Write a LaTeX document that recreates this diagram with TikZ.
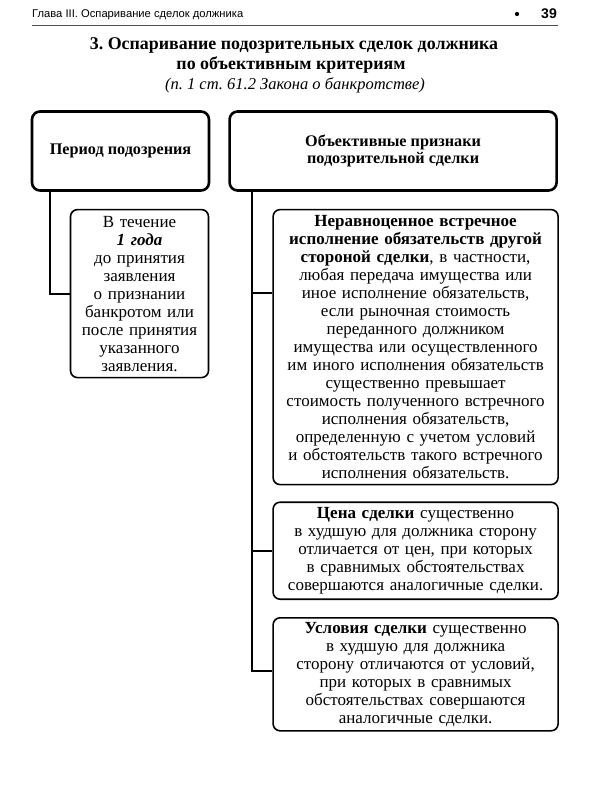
\documentclass[tikz,border=0pt]{standalone}
\usepackage{fontspec}
\setmainfont{Liberation Serif}
\newfontfamily\hdrfont{Liberation Sans}
\usetikzlibrary{positioning,calc}
\frenchspacing

\begin{document}
\begin{tikzpicture}[x=1pt, y=-1pt,
  cat/.style={draw, line width=2.6pt, rounded corners=8pt, align=center, font=\bfseries\fontsize{16.2}{17.5}\selectfont, inner sep=2pt},
  card/.style={draw, line width=1.6pt, rounded corners=7pt, align=center, font=\fontsize{17}{18}\selectfont, inner sep=2pt},
  link/.style={line width=1.8pt}
]
  \useasboundingbox (0,0) rectangle (600,800);

  % page header
  \node[anchor=base west, font=\hdrfont\fontsize{11.2}{13}\selectfont, inner sep=0] (hdr) at (32,18) {Глава III. Оспаривание сделок должника};
  \node[anchor=base east, font=\hdrfont\bfseries\fontsize{14}{15}\selectfont, inner sep=0] (pg) at (557,19) {39};
  \node[circle, fill=black, inner sep=1.5pt] (dot) at (517,14) {};
  \draw[line width=0.9pt, black!70] (32,25) -- (558,25);

  % title
  \node[anchor=base, font=\bfseries\fontsize{17.9}{20}\selectfont] (ttl1) at (294,50) {3. Оспаривание подозрительных сделок должника};
  \node[anchor=base, font=\bfseries\fontsize{17.9}{20}\selectfont] (ttl2) at (291,70) {по объективным критериям};
  \node[anchor=base, font=\itshape\fontsize{16.5}{18}\selectfont] (src) at (295,89) {(п. 1 ст. 61.2 Закона о банкротстве)};

  % top boxes
  \node[cat, minimum width=177, minimum height=79] (per) at (120.5,151) {Период подозрения};
  \node[cat, minimum width=327, minimum height=79, right=18pt of per] (obj) {Объективные признаки\\подозрительной сделки};

  % sub boxes
  \node[card, minimum width=138, minimum height=168, text width=132, anchor=north west] (term) at ($(per.south west)+(39,17)$)
    {В течение\\\textbf{\textit{1 года}}\\до принятия\\заявления\\о признании\\банкротом или\\после принятия\\указанного\\заявления.};
  \node[card, minimum width=285, minimum height=275, text width=281, anchor=north west] (unequal) at ($(obj.south west)+(44,17)$)
    {\textbf{Неравноценное встречное}\\\textbf{исполнение обязательств другой}\\\textbf{стороной сделки}, в частности,\\любая передача имущества или\\иное исполнение обязательств,\\если рыночная стоимость\\переданного должником\\имущества или осуществленного\\им иного исполнения обязательств\\существенно превышает\\стоимость полученного встречного\\исполнения обязательств,\\определенную с учетом условий\\и обстоятельств такого встречного\\исполнения обязательств.};
  \node[card, minimum width=285, minimum height=97, text width=281, below=16pt of unequal] (price)
    {\textbf{Цена сделки} существенно\\в худшую для должника сторону\\отличается от цен, при которых\\в сравнимых обстоятельствах\\совершаются аналогичные сделки.};
  \node[card, minimum width=285, minimum height=113, text width=281, below=17pt of price] (terms)
    {\textbf{Условия сделки} существенно\\в худшую для должника\\сторону отличаются от условий,\\при которых в сравнимых\\обстоятельствах совершаются\\аналогичные сделки.};

  % links
  \coordinate (ptrunk) at ($(per.south west)+(19,0)$);
  \coordinate (otrunk) at ($(obj.south west)+(24,0)$);
  \draw[link] (ptrunk) |- (term.west);
  \draw[link] (otrunk) |- ([yshift=54pt]unequal.west);
  \draw[link] (otrunk) |- (price.west);
  \draw[link] (otrunk) |- ([yshift=3pt]terms.west);
\end{tikzpicture}
\end{document}
